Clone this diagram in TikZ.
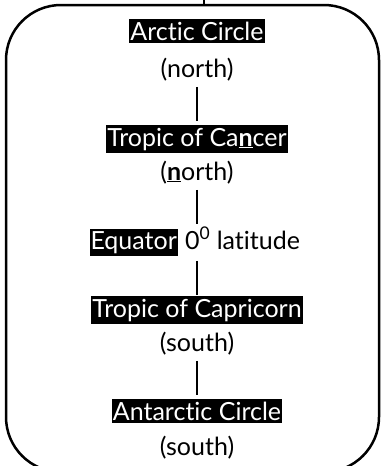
\documentclass[tikz,border=0pt]{standalone}
\usepackage{fontspec}
\setmainfont[Ligatures=NoCommon]{Lato}

\tikzset{
  latbox/.style={fill=black, text=white, inner xsep=1pt, inner ysep=2.5pt,
    anchor=base, font=\fontsize{25}{28}\selectfont},
  lattext/.style={inner sep=1pt, anchor=base, font=\fontsize{25}{28}\selectfont},
  link/.style={line width=2pt},
}

\begin{document}
\begin{tikzpicture}[x=1pt, y=-1pt]
    \useasboundingbox (0,0) rectangle (381,466);

    % Frame
    \draw[line width=2.5pt, rounded corners=55pt] (6,5) rectangle (379,472);
    \draw[line width=2.5pt] (204,0) -- (204,5);

    % Lines of latitude
    \node[latbox] (arctic) at (197,40) {Arctic Circle};
    \node[lattext] (north1) at (197,77) {(north)};
    \node[latbox] (cancer) at (197,146) {Tropic of Ca\textbf{\underline{n}}cer};
    \node[lattext] (north2) at (197,180) {(\textbf{\underline{n}}orth)};
    \node[latbox, anchor=base east] (equator) at (178,249) {Equator};
    \node[lattext, anchor=base west] (latitude) at (184,249) {0\textsuperscript{0} latitude};
    \node[latbox] (capricorn) at (197,317) {Tropic of Capricorn};
    \node[lattext] (south1) at (197,351) {(south)};
    \node[latbox] (antarctic) at (197,420) {Antarctic Circle};
    \node[lattext] (south2) at (197,455) {(south)};

    % Links
    \draw[link] ([yshift=-5pt]north1.south) -- ([yshift=4pt]cancer.north);
    \draw[link] ([yshift=-5pt]north2.south) -- ([yshift=4pt]north2.south |- equator.north);
    \draw[link] ([yshift=-5pt]north2.south |- equator.south) -- ([yshift=1pt]capricorn.north);
    \draw[link] ([yshift=-5pt]south1.south) -- ([yshift=4pt]antarctic.north);
\end{tikzpicture}
\end{document}
